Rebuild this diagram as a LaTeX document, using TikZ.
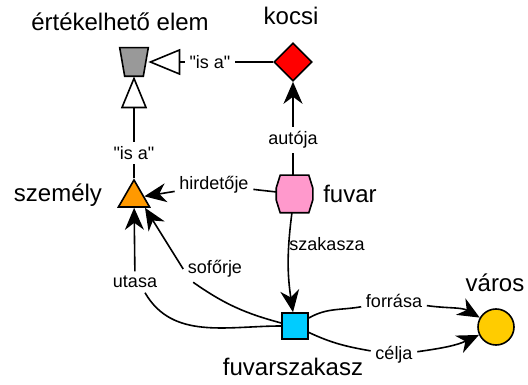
\documentclass[tikz,border=0pt]{standalone}
\usepackage{fontspec}
\setmainfont{Liberation Sans}
\usepackage{xcolor}
\usetikzlibrary{arrows.meta,shapes.geometric}
\definecolor{elem-gray}{HTML}{999999}
\definecolor{kocsi-red}{HTML}{FF0000}
\definecolor{szemely-orange}{HTML}{FF9900}
\definecolor{fuvar-pink}{HTML}{FF99CC}
\definecolor{szakasz-cyan}{HTML}{00CCFF}
\definecolor{varos-yellow}{HTML}{FFCC00}
\tikzset{
    entity/.style = {draw=black, line width=1.6pt, inner sep=0.5pt},
    title-label/.style = {font=\fontsize{24}{26}\selectfont, inner sep=1pt},
    edge-label/.style = {font=\fontsize{18}{20}\selectfont, inner sep=4pt},
    arr/.style = {-{Stealth[length=22pt, width=19pt, inset=7pt]}},
    isa/.style = {-{Triangle[open, length=32pt, width=26pt]}},
}
\begin{document}
\begin{tikzpicture}[x=1pt, y=-1pt, line width=1.6pt]
\useasboundingbox (0,0) rectangle (528,385);
\node[minimum width=27pt, minimum height=27pt, inner sep=0pt] (ertekelheto) at (134,62) {};
\draw[fill=elem-gray] (ertekelheto.north west) -- (ertekelheto.north east) -- ([xshift=-5pt]ertekelheto.south east)
    -- ([xshift=5pt]ertekelheto.south west) -- cycle;
\node[entity, diamond, minimum size=38pt, fill=kocsi-red] (kocsi) at (293,62) {};
\node[entity, regular polygon, regular polygon sides=3, minimum size=36pt, fill=szemely-orange] (szemely) at (134,198) {};
\node[minimum width=35pt, minimum height=36pt, inner sep=0pt] (fuvar) at (294.5,194) {};
\draw[fill=fuvar-pink] ([xshift=4pt]fuvar.north west) -- ([xshift=-4pt]fuvar.north east) -- ([yshift=6pt]fuvar.east)
    -- ([yshift=-6pt]fuvar.east) -- ([xshift=-4pt]fuvar.south east) -- ([xshift=4pt]fuvar.south west)
    -- ([yshift=-6pt]fuvar.west) -- ([yshift=6pt]fuvar.west) -- cycle;
\node[entity, rectangle, minimum size=26pt, fill=szakasz-cyan] (fuvarszakasz) at (295,326) {};
\node[entity, circle, minimum size=36pt, fill=varos-yellow] (varos) at (496,327) {};

\node[title-label] (ertekelheto-title) at (120,22) {értékelhető elem};
\node[title-label] (kocsi-title) at (291,16) {kocsi};
\node[title-label] (szemely-title) at (58,195) {személy};
\node[title-label] (fuvar-title) at (350,194) {fuvar};
\node[title-label] (fuvarszakasz-title) at (293,367) {fuvarszakasz};
\node[title-label] (varos-title) at (495,283) {város};

\node[edge-label] (isa-kocsi) at (210,62) {\textquotedbl is a\textquotedbl};
\node[edge-label] (isa-szemely) at (134,153) {\textquotedbl is a\textquotedbl};
\node[edge-label] (autoja) at (293,140) {autója};
\node[edge-label] (hirdetoje) at (214,185) {hirdetője};
\node[edge-label] (szakasza) at (327,244) {szakasza};
\node[edge-label] (soforje) at (215,269) {sofőrje};
\node[edge-label] (utasa) at (135,282) {utasa};
\node[edge-label] (forrasa) at (394,301) {forrása};
\node[edge-label] (celja) at (394,355) {célja};

\draw[isa] (isa-kocsi) -- (ertekelheto);
\draw (kocsi) -- (isa-kocsi);
\draw[isa] (isa-szemely) -- (ertekelheto);
\draw (szemely) -- (isa-szemely);
\draw[arr] (autoja) -- (kocsi);
\draw (autoja.south |- fuvar.north) -- (autoja);
\draw[arr] (hirdetoje) -- (szemely);
\draw (fuvar) -- (hirdetoje);
\draw[arr] (fuvar) to[bend right=8] (fuvarszakasz);
\draw[arr] (soforje.west) -- ([xshift=11pt]szemely.side 2);
\draw ([xshift=10pt]soforje.south west) to[out=-35, in=165] ([yshift=3pt]fuvarszakasz.west);
\draw[arr] (utasa) -- (szemely);
\draw ([xshift=10pt]utasa.south) to[out=-60, in=180] (fuvarszakasz.west);
\draw (fuvarszakasz) to[out=30, in=190] (forrasa);
\draw[arr] (forrasa) to[out=-8, in=150] (varos);
\draw (fuvarszakasz) to[out=-25, in=170] (celja);
\draw[arr] (celja) to[out=8, in=205] (varos);
\end{tikzpicture}
\end{document}
